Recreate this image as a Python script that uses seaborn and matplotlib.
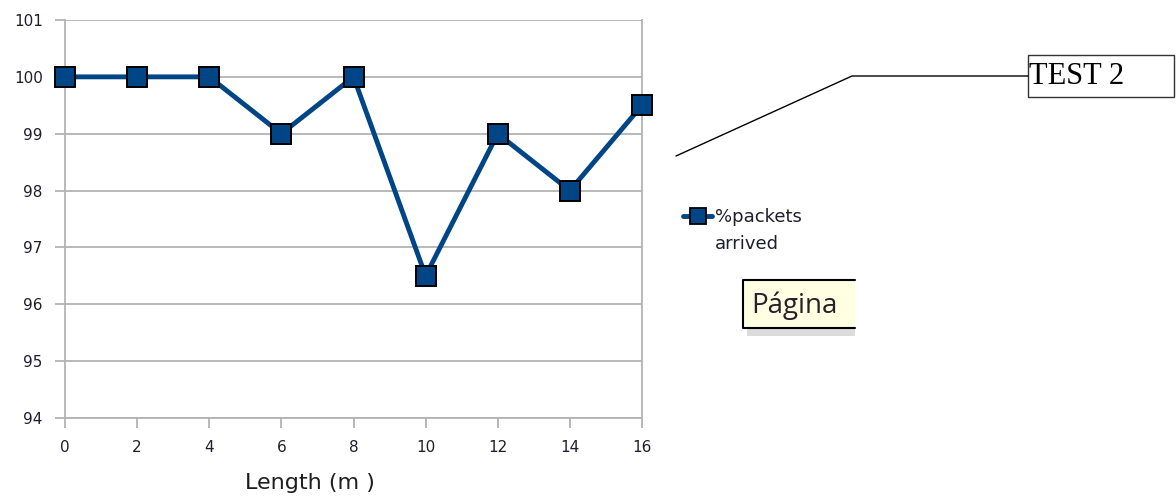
import matplotlib
matplotlib.use("Agg")
import matplotlib.pyplot as plt
from matplotlib.patches import Rectangle
from matplotlib.lines import Line2D
import seaborn as sns
import pandas as pd

# Measured packet arrival rate versus cable length
length_m = [0, 2, 4, 6, 8, 10, 12, 14, 16]
pct_arrived = [100, 100, 100, 99, 100, 96.5, 99, 98, 99.5]
x_ticks = [0, 2, 4, 6, 8, 10, 12, 14, 16]
y_ticks = [94, 95, 96, 97, 98, 99, 100, 101]
series_name = "%packets\narrived"
x_title = "Length (m )"

sns.set_theme(style="white")
plt.rcParams["font.family"] = ["DejaVu Sans"]

W, H = 1176, 500
fig = plt.figure(figsize=(W / 100, H / 100), dpi=100)
ax = fig.add_axes([65 / W, 1 - 418 / H, (642 - 65) / W, (418 - 20) / H])

df = pd.DataFrame({x_title: length_m, series_name: pct_arrived})
blue = "#004586"
sns.lineplot(data=df, x=x_title, y=series_name, ax=ax, color=blue,
             linewidth=3.5, marker="s", markersize=14.5, markerfacecolor=blue,
             markeredgecolor="black", markeredgewidth=1.4,
             legend=False, zorder=3, clip_on=False)

ax.set_xlim(0, 16)
ax.set_ylim(94, 101)
ax.set_xticks(x_ticks)
ax.set_yticks(y_ticks)
ax.yaxis.grid(True, color="#b3b3b3", linewidth=1.3)
ax.xaxis.grid(False)
ax.spines["top"].set_visible(False)
for side in ["left", "right", "bottom"]:
    ax.spines[side].set_color("#b3b3b3")
    ax.spines[side].set_linewidth(1.3)
ax.tick_params(axis="both", which="major", direction="out", length=7.5,
               width=1.3, color="#b3b3b3", labelsize=11, labelcolor="#1e1e2e",
               bottom=True, left=True)
ax.tick_params(axis="x", pad=8)
ax.tick_params(axis="y", pad=8.5)
ax.set_xlabel(x_title, fontsize=16, color="#1e1e1e")
ax.xaxis.set_label_coords((310 - 65) / (642 - 65), (418 - 473) / (418 - 20))
ax.set_ylabel("")

# Legend entry at the right of the plot, symbol level with the first line
handle = Line2D([0], [0], color=blue, linewidth=3.5, marker="s", markersize=11,
                markerfacecolor=blue, markeredgecolor="black", markeredgewidth=1.3)
leg = fig.legend([handle], [series_name], loc="upper left",
                 bbox_to_anchor=(667 / W, 1 - 192 / H), frameon=False,
                 fontsize=13, handlelength=1.6, handleheight=1.3,
                 handletextpad=0.15, labelcolor="#1e1e2e")
for t in leg.get_texts():
    t.set_linespacing(1.6)
for column in leg._legend_handle_box.get_children():
    for item in column.get_children():
        item.align = "top"

# Callout with connector line
fig.add_artist(Line2D([676 / W, 852 / W, 1028 / W],
                      [1 - 156 / H, 1 - 76 / H, 1 - 76 / H],
                      color="black", linewidth=1.0))
fig.add_artist(Rectangle((1028 / W, 1 - 97 / H), (1174 / W - 1028 / W), 42 / H,
                         transform=fig.transFigure, facecolor="white",
                         edgecolor="#333333", linewidth=1.0))
fig.text(1029 / W, 1 - 77 / H, "TEST 2", family="Liberation Serif",
         fontsize=22, color="black", va="center", ha="left")

# Tooltip box
fig.add_artist(Rectangle((747 / W, 1 - 336 / H), 108 / W, 8 / H,
                         transform=fig.transFigure, facecolor="#dcdcdc",
                         edgecolor="none"))
fig.add_artist(Rectangle((743 / W, 1 - 328 / H), 112 / W, 48 / H,
                         transform=fig.transFigure, facecolor="#ffffe1",
                         edgecolor="none"))
fig.add_artist(Line2D([855 / W, 743 / W, 743 / W, 855 / W],
                      [1 - 280 / H, 1 - 280 / H, 1 - 328 / H, 1 - 328 / H],
                      color="black", linewidth=1.5))
fig.text(751 / W, 1 - 306 / H, "Página", family="Open Sans",
         fontsize=20, color="#2a1e2a", va="center", ha="left")

fig.savefig("out.png", dpi=100)
